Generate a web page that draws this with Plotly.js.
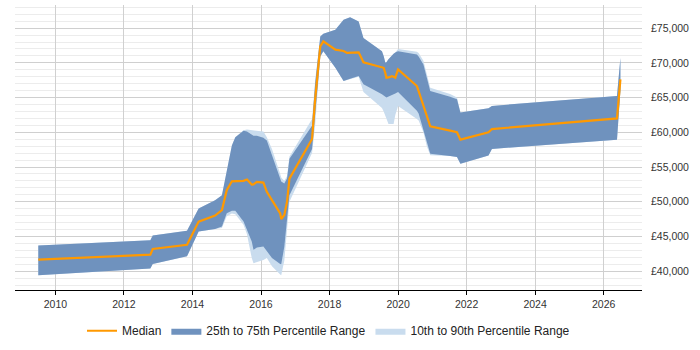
<!DOCTYPE html>
<html>
<head>
<meta charset="utf-8">
<script src="https://cdn.plot.ly/plotly-3.0.1.min.js"></script>
<style>
  html, body { margin: 0; padding: 0; background: #fff; }
  #chart { width: 700px; height: 350px; }
</style>
</head>
<body>
<div id="chart"></div>
<script>
// Sample dates (decimal years)
const dates = [
  2009.50, 2012.77, 2012.84, 2013.84, 2014.18, 2014.66, 2014.86, 2015.00, 2015.15, 2015.25,
  2015.49, 2015.59, 2015.73, 2015.78, 2015.88, 2016.07, 2016.17, 2016.32, 2016.56, 2016.59,
  2016.68, 2016.76, 2016.83, 2017.49, 2017.58, 2017.73, 2017.82, 2018.17, 2018.41, 2018.51,
  2018.60, 2018.85, 2018.99, 2019.53, 2019.58, 2019.63, 2019.66, 2019.72, 2019.82, 2019.87,
  2019.92, 2020.00, 2020.55, 2020.60, 2020.74, 2020.84, 2020.94, 2021.52, 2021.72, 2021.82,
  2022.64, 2022.74, 2026.39, 2026.49
];

// 10th percentile
const p10 = [
  39430, 40370, 41040, 42140, 45710, 46090, 46200, 47900, 48300, 48200,
  46700, 45300, 41900, 41140, 41300, 41600, 41900, 40710, 39510, 39400,
  41500, 46000, 50000, 57000, 61000, 70900, 71660, 69290, 67370, 67500,
  67700, 68000, 65800, 63500, 63000, 62500, 62000, 61200, 61200, 61200,
  62500, 63800, 61900, 61700, 60000, 58000, 56700, 56600, 56430, 55470,
  56660, 57610, 58940, 66000
];

// 25th percentile
const p25 = [
  39430, 40370, 41040, 42140, 45710, 46090, 46430, 48330, 48710, 48700,
  47140, 45940, 44290, 43090, 43400, 43570, 42860, 41900, 41040, 41000,
  43500, 47500, 50940, 57610, 62000, 70900, 71660, 69290, 67370, 67500,
  67700, 68090, 66900, 65470, 65300, 65100, 65000, 65100, 65400, 65500,
  65600, 65800, 63090, 62700, 60470, 58570, 56900, 56600, 56430, 55470,
  56660, 57610, 58940, 66000
];

// Median
const median = [
  41660, 42370, 43190, 43800, 47140, 48000, 48800, 51660, 52940, 52940,
  53000, 53190, 52470, 52500, 52860, 52760, 51430, 50230, 48330, 47510,
  48090, 50000, 53330, 59040, 64740, 72370, 73090, 71900, 71700, 71430,
  71450, 71510, 70090, 69400, 69290, 68500, 67860, 67900, 68090, 68000,
  67860, 69040, 66660, 65940, 63800, 62300, 60860, 60230, 60000, 58940,
  60000, 60470, 62000, 67610
];

// 75th percentile
const p75 = [
  43710, 44470, 45140, 45810, 49040, 50230, 50940, 54510, 58090, 59290,
  60230, 60100, 59700, 59510, 59510, 59200, 58800, 56660, 53330, 52900,
  52610, 53330, 56190, 60940, 67000, 73800, 74190, 74760, 76190, 76400,
  76570, 75940, 73570, 71660, 71000, 70000, 70100, 70500, 71100, 71300,
  71500, 71660, 71190, 70900, 69760, 68000, 65940, 65100, 64760, 62860,
  63470, 63800, 65230, 70710
];

// 90th percentile
const p90 = [
  43710, 44470, 45140, 45810, 49040, 50230, 50940, 54510, 58090, 59290,
  60300, 60400, 60300, 60230, 60230, 60100, 59290, 57610, 54000, 53500,
  53000, 53700, 56500, 61900, 67500, 73800, 74190, 74760, 76190, 76400,
  76570, 75940, 73570, 71660, 71000, 70000, 70100, 70500, 71100, 71300,
  71500, 72000, 71600, 71400, 70300, 68500, 66430, 65500, 65000, 62860,
  63470, 63800, 65230, 70710
];

const seriesNames = ['Median', '25th to 75th Percentile Range', '10th to 90th Percentile Range'];

// Closed polygon: upper edge left-to-right, lower edge right-to-left
function band(upper, lower) {
  return {
    x: dates.concat(dates.slice().reverse()),
    y: upper.concat(lower.slice().reverse())
  };
}

const outer = band(p90, p10);
const inner = band(p75, p25);

const traces = [
  {
    type: 'scatter', mode: 'lines', name: seriesNames[2], legendrank: 3,
    x: outer.x, y: outer.y, fill: 'toself', fillcolor: '#c9dcee',
    line: { width: 0, color: '#c9dcee' }, hoverinfo: 'skip'
  },
  {
    type: 'scatter', mode: 'lines', name: seriesNames[1], legendrank: 2,
    x: inner.x, y: inner.y, fill: 'toself', fillcolor: '#6f92be',
    line: { width: 0, color: '#6f92be' }, hoverinfo: 'skip'
  },
  {
    type: 'scatter', mode: 'lines', name: seriesNames[0], legendrank: 1,
    x: dates, y: median, line: { color: '#ff9900', width: 2.2 }
  }
];

const font = { family: '"Liberation Sans", Arial, sans-serif', size: 10.5, color: '#333' };

const layout = {
  width: 700, height: 350,
  margin: { l: 15, r: 58, t: 5, b: 58 },
  paper_bgcolor: '#fff', plot_bgcolor: '#fff',
  font: font,
  showlegend: true,
  legend: {
    orientation: 'h', x: 0.5, xanchor: 'center', y: -0.143, yanchor: 'middle',
    font: { family: font.family, size: 12, color: '#222' }, traceorder: 'normal'
  },
  xaxis: {
    range: [2008.82, 2027.12], tick0: 2010, dtick: 2,
    showgrid: true, gridcolor: '#d0d0d0', gridwidth: 1,
    showline: true, linecolor: '#000', linewidth: 1,
    ticks: 'outside', ticklen: 4, tickcolor: '#000',
    zeroline: false, tickfont: font
  },
  yaxis: {
    side: 'right', range: [37290, 78330], tick0: 40000, dtick: 5000,
    tickprefix: '£', tickformat: ',d', separatethousands: true,
    showgrid: true, gridcolor: '#cfcfcf', gridwidth: 1,
    minor: { dtick: 1000, showgrid: true, gridcolor: '#ececec', gridwidth: 1 },
    showline: false, ticks: '', ticklabelstandoff: 8,
    zeroline: false, tickfont: font
  }
};

Plotly.newPlot('chart', traces, layout, { displayModeBar: false, staticPlot: true });
</script>
</body>
</html>
